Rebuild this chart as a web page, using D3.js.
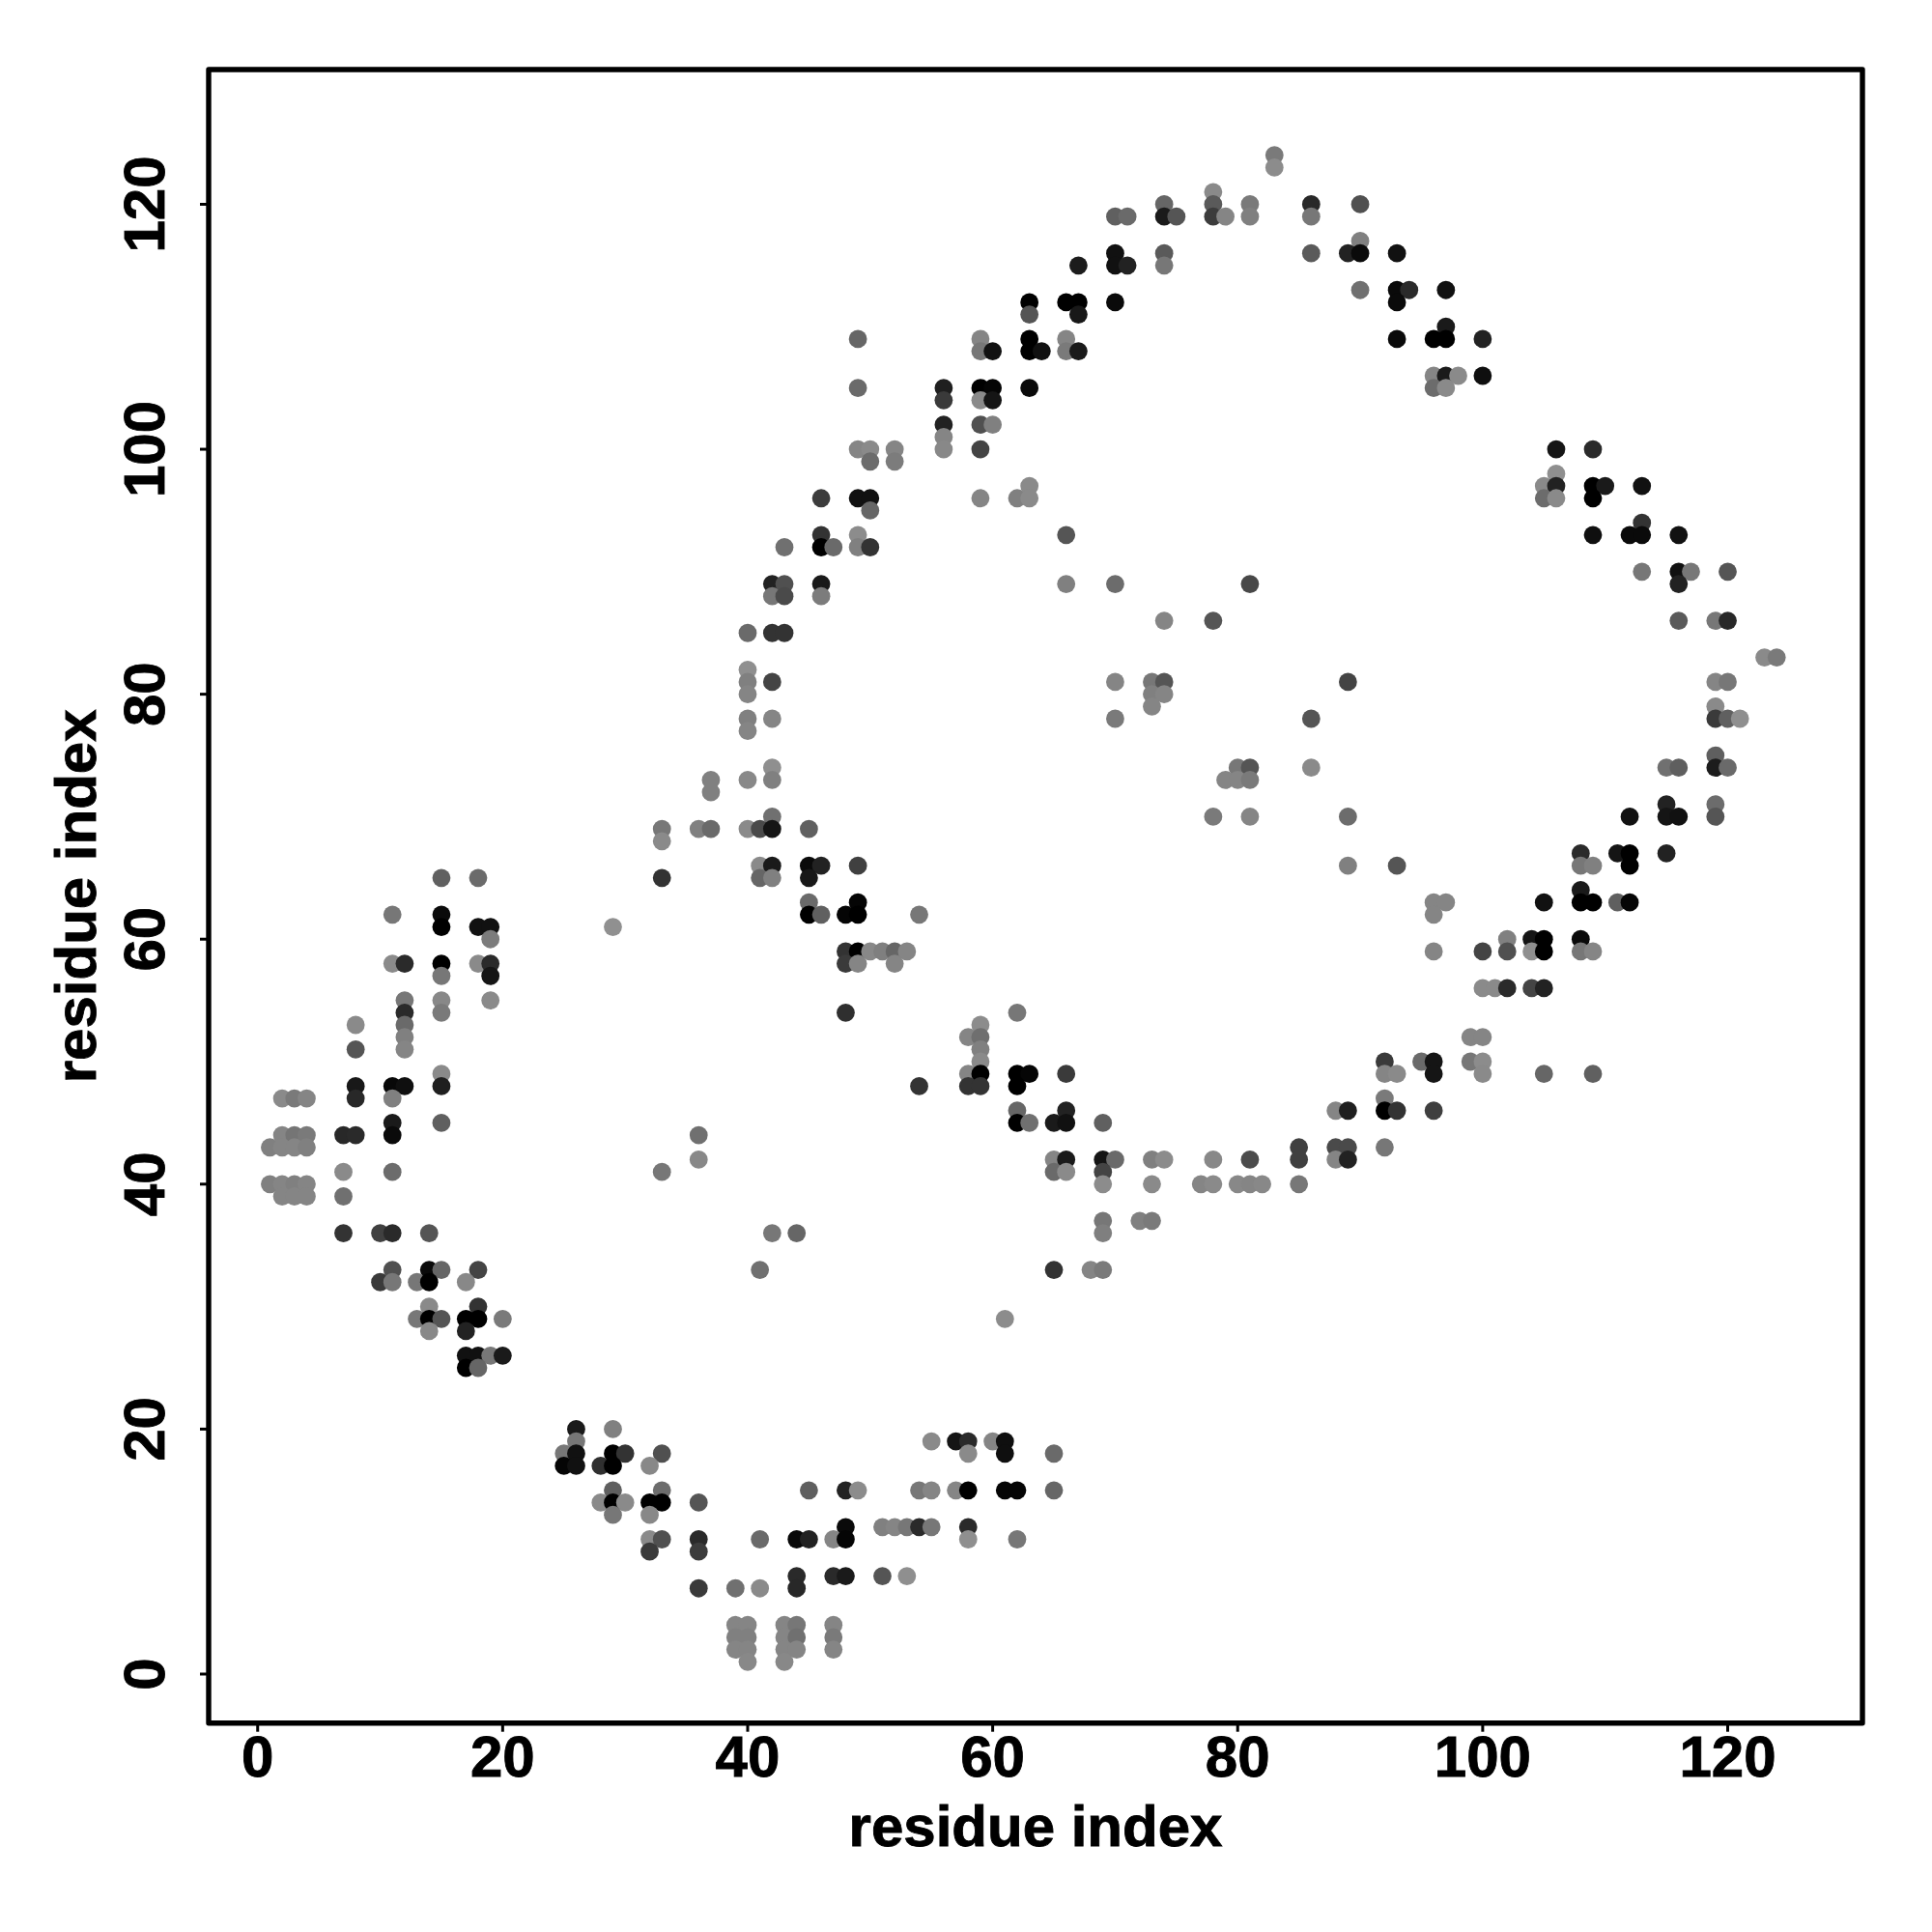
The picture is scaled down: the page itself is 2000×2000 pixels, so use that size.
<!DOCTYPE html>
<html>
<head>
<meta charset="utf-8">
<script src="https://d3js.org/d3.v7.min.js"></script>
<style>
html,body{margin:0;padding:0;background:#fff;}
svg{display:block;}
text{font-family:"Liberation Sans",Arial,sans-serif;font-weight:bold;fill:#000;stroke:#000;stroke-width:0.9px;}
</style>
</head>
<body>
<svg id="chart" width="2000" height="2000"></svg>
<script>
const xTitle = "residue index";
const yTitle = "residue index";
const tickValues = [0, 20, 40, 60, 80, 100, 120];

const rowY = [124,123,121,120,119,117,116,115,113,112,111,110,109,108,106,105,104,102,101,100,99,98,97,96,95,94,93,92,90,89,88,86,85,83,82,81,80,79,78,77,75,74,73,72,71,70,69,68,67,66,65,64,63,62,61,60,59,58,57,56,55,54,53,52,51,50,49,48,47,46,45,44,43,42,41,40,39,37,36,33,32,30,29,28,26,25,20,19,18,17,15,14,13,12,11,10,8,7,4,3,2,1];

const rowX = [
[83],[83],[78],
[74,78,81,86,90],
[70,71,74,75,78,79,81,86],
[90],
[70,74,86,89,90,93],
[67,70,71,74],
[90,93,94,97],
[63,66,67,70,93],
[63,67],
[97],
[49,59,63,66,93,96,97,100],
[59,60,63,64,66,67],
[96,97,98,100],
[49,56,59,60,63,96,97],
[56,59,60],
[56,59,60],
[56],
[49,50,52,56,59,106,109],
[50,52],
[106],
[63,105,106,109,110,113],
[46,49,50,59,62,63,105,106,109],
[50],
[113],
[46,49,66,109,112,113,116],
[43,46,47,49,50],
[113,116,117,120],
[42,43,46,66,70,81,116],
[42,43,46],
[74,78,116,119,120],
[40,42,43],
[123,124],
[40],
[40,42,70,73,74,89,119,120],
[40,73,74],
[73,119],
[40,42,70,86,119,120,121],
[40],
[119],
[42,80,81,86,115,116,119,120],
[37,40,42,79,80,81],
[37],
[115,119],
[42,78,81,89,112,115,116,119],
[33,36,37,40,41,42,45],
[33],
[108,111,112,115],
[41,42,45,46,49,89,93,108,109,112],
[15,18,33,41,42,45],
[108],
[45,49,96,97,105,108,109,111,112],
[11,15,45,46,48,49,54,96],
[15,18,19,29],
[19,102,104,105,108],
[48,49,50,51,52,53,96,100,102,104,105,108,109],
[11,12,15,18,19,48,49,52],
[15,19],
[100,101,102,104,105],
[12,15,19],
[12,15,48,62],
[8,12,59],
[12,58,59,99,100],
[8,12,59],
[59,92,95,96,99,100],
[15,58,59,62,63,66,92,93,96,100,105,109],
[8,11,12,15,54,58,59,62],
[2,3,4,8,11,92],
[62,66,88,89,92,93,96],
[11,15,62,63,65,66,69],
[2,3,4,7,8,11,36],
[1,2,3,4,85,88,89,92],
[36,65,66,69,70,73,74,78,81,85,88,89],
[7,11,33,65,66,69],
[1,2,3,4,69,73,77,78,80,81,82,85],
[2,3,4,7],
[69,72,73],
[7,10,11,14,42,44,69],
[11,14,15,18,41,65,68,69],
[10,11,13,14,17],
[14,18],
[13,14,15,17,18,20,61],
[14,17],
[17,18,19,20],
[17,18],
[26,29],
[26,55,57,58,60,61],
[25,26,29,30,33,58,61,65],
[25,26,28,29,32],
[29,33,45,48,49,54,55,57,58,61,62,65],
[28,29,30,32,33,36],
[29,32],
[48,51,52,53,54,55,58],
[32,33,36,41,44,45,47,48,58,62],
[32,36],
[44,47,48,51,53],
[36,39,41,44],
[39,40,43,44,47],
[39,40,43,44,47],
[39,40,43,44,47],
[40,43]
];

const rowGrey = [
[0x7a],[0x8c],[0x8a],
[0x66,0x5a,0x7a,0x28,0x50],
[0x60,0x6a,0x1a,0x55,0x3c,0x85,0x80,0x77],
[0x80],
[0x11,0x5a,0x5a,0x22,0x0a,0x11],
[0x1c,0x11,0x22,0x77],
[0x70,0x0a,0x2a,0x11],
[0x00,0x00,0x00,0x0a,0x0a],
[0x55,0x18],
[0x1a],
[0x66,0x85,0x00,0x85,0x0a,0x00,0x00,0x22],
[0x77,0x11,0x00,0x11,0x7a,0x1a],
[0x85,0x1a,0x8a,0x0f],
[0x6a,0x1f,0x00,0x05,0x0a,0x6c,0x8a],
[0x3a,0x8a,0x15],
[0x22,0x50,0x80],
[0x85],
[0x85,0x8a,0x85,0x88,0x44,0x15,0x2a],
[0x6c,0x7c],
[0x8f],
[0x8a,0x8a,0x22,0x00,0x1a,0x11],
[0x3c,0x11,0x11,0x85,0x80,0x8a,0x6c,0x8a,0x00],
[0x66],
[0x33],
[0x33,0x8c,0x55,0x0f,0x0a,0x0a,0x11],
[0x70,0x00,0x6a,0x80,0x33],
[0x77,0x11,0x77,0x55],
[0x22,0x50,0x1a,0x80,0x6c,0x48,0x22],
[0x77,0x4a,0x7c],
[0x85,0x55,0x5a,0x77,0x28],
[0x6a,0x33,0x33],
[0x8a,0x7a],
[0x8f],
[0x80,0x44,0x85,0x77,0x55,0x44,0x85,0x77],
[0x85,0x80,0x85],
[0x85,0x8a],
[0x80,0x85,0x7a,0x55,0x3a,0x60,0x8f],
[0x85],
[0x5f],
[0x8f,0x77,0x55,0x8a,0x70,0x5f,0x1c,0x6a],
[0x80,0x88,0x80,0x85,0x85,0x7a],
[0x80],
[0x22,0x6c],
[0x70,0x7a,0x85,0x6c,0x11,0x15,0x11,0x55],
[0x77,0x80,0x6a,0x8a,0x4a,0x15,0x60],
[0x8a],
[0x2a,0x15,0x00,0x22],
[0x8a,0x1a,0x0a,0x22,0x40,0x80,0x55,0x77,0x80,0x00],
[0x60,0x6b,0x33,0x66,0x80,0x18],
[0x1a],
[0x6a,0x05,0x85,0x85,0x11,0x00,0x00,0x5f,0x05],
[0x77,0x0a,0x00,0x60,0x05,0x00,0x77,0x85],
[0x00,0x11,0x11,0x90],
[0x7c,0x80,0x15,0x00,0x0a],
[0x33,0x00,0x88,0x7f,0x66,0x85,0x85,0x44,0x50,0x8f,0x00,0x77,0x85],
[0x8a,0x2a,0x00,0x8a,0x2a,0x3a,0x85,0x85],
[0x77,0x15],
[0x8a,0x8a,0x2a,0x44,0x22],
[0x77,0x88,0x8a],
[0x2a,0x7a,0x2f,0x77],
[0x8a,0x6a,0x8c],
[0x80,0x85,0x6f,0x85,0x85],
[0x55,0x85,0x80],
[0x8a,0x3a,0x6a,0x15,0x77,0x8c],
[0x8a,0x85,0x00,0x00,0x05,0x3a,0x85,0x8a,0x15,0x8a,0x66,0x60],
[0x18,0x08,0x0f,0x1f,0x33,0x33,0x33,0x00],
[0x8a,0x7a,0x85,0x28,0x80,0x7a],
[0x66,0x22,0x85,0x1f,0x00,0x33,0x3f],
[0x1a,0x5f,0x00,0x70,0x1a,0x11,0x60],
[0x85,0x75,0x7a,0x28,0x2a,0x0a,0x70],
[0x80,0x85,0x85,0x80,0x40,0x4a,0x4a,0x77],
[0x88,0x85,0x1a,0x15,0x6a,0x80,0x8c,0x88,0x4c,0x40,0x85,0x22],
[0x8a,0x6c,0x77,0x6a,0x8a,0x44],
[0x80,0x85,0x80,0x85,0x8c,0x8a,0x85,0x8a,0x88,0x85,0x88,0x77],
[0x85,0x85,0x85,0x70],
[0x77,0x80,0x7a],
[0x33,0x40,0x2a,0x55,0x77,0x66,0x7f],
[0x50,0x0a,0x66,0x44,0x70,0x33,0x85,0x7a],
[0x3a,0x77,0x77,0x00,0x88],
[0x8a,0x33],
[0x77,0x00,0x55,0x00,0x00,0x7a,0x8c],
[0x88,0x22],
[0x11,0x11,0x77,0x1a],
[0x00,0x66],
[0x1a,0x80],
[0x77,0x8a,0x15,0x2a,0x85,0x0f],
[0x77,0x11,0x00,0x33,0x50,0x8a,0x0f,0x6a],
[0x05,0x11,0x2f,0x00,0x88],
[0x5f,0x6c,0x5f,0x22,0x8c,0x77,0x85,0x85,0x00,0x05,0x05,0x66],
[0x8a,0x00,0x8a,0x00,0x00,0x55],
[0x77,0x88],
[0x0a,0x80,0x85,0x77,0x2a,0x77,0x2a],
[0x8a,0x50,0x2a,0x6a,0x08,0x22,0x85,0x05,0x8f,0x77],
[0x3a,0x3c],
[0x2a,0x2a,0x1a,0x55,0x8f],
[0x3a,0x70,0x8a,0x28],
[0x85,0x85,0x85,0x77,0x85],
[0x80,0x80,0x85,0x70,0x7a],
[0x85,0x85,0x85,0x85,0x85],
[0x88,0x88]
];

const W = {left:216, right:1928, top:72, bottom:1783.7};
const x = d3.scaleLinear().domain([-4,131]).range([W.left,W.right]);
const y = d3.scaleLinear().domain([-4,131]).range([W.bottom,W.top]);

const contacts = rowY.flatMap((yy,i)=>rowX[i].map((xx,j)=>({x:xx,y:yy,g:rowGrey[i][j]})));

const svg = d3.select("#chart");

svg.append("g").selectAll("circle").data(contacts).join("circle")
  .attr("cx",d=>x(d.x)).attr("cy",d=>y(d.y)).attr("r",9.4)
  .attr("fill",d=>d3.rgb(d.g,d.g,d.g));

svg.append("rect").attr("x",W.left).attr("y",W.top)
  .attr("width",W.right-W.left).attr("height",W.bottom-W.top)
  .attr("fill","none").attr("stroke","#000").attr("stroke-width",5.4)
  .attr("stroke-linejoin","round");

const gx = svg.append("g").attr("transform",`translate(0,${W.bottom})`)
  .call(d3.axisBottom(x).tickValues(tickValues).tickSize(9).offset(0));
const gy = svg.append("g").attr("transform",`translate(${W.left},0)`)
  .call(d3.axisLeft(y).tickValues(tickValues).tickSize(9).offset(0));
for (const g of [gx,gy]) {
  g.select(".domain").remove();
  g.selectAll("line").attr("stroke","#000").attr("stroke-width",3);
  g.selectAll("text").attr("font-size",60).attr("font-family",null);
}
gx.selectAll("text").attr("dy",0).attr("y",55);
gy.selectAll("text").attr("transform","rotate(-90)").attr("text-anchor","middle")
  .attr("x",0).attr("dy",0).attr("y",-46);

svg.append("text").attr("x",(W.left+W.right)/2).attr("y",1911)
  .attr("text-anchor","middle").attr("font-size",60).text(xTitle);
svg.append("text").attr("transform",`translate(99,${(W.top+W.bottom)/2}) rotate(-90)`)
  .attr("text-anchor","middle").attr("font-size",60).text(yTitle);
</script>
</body>
</html>
